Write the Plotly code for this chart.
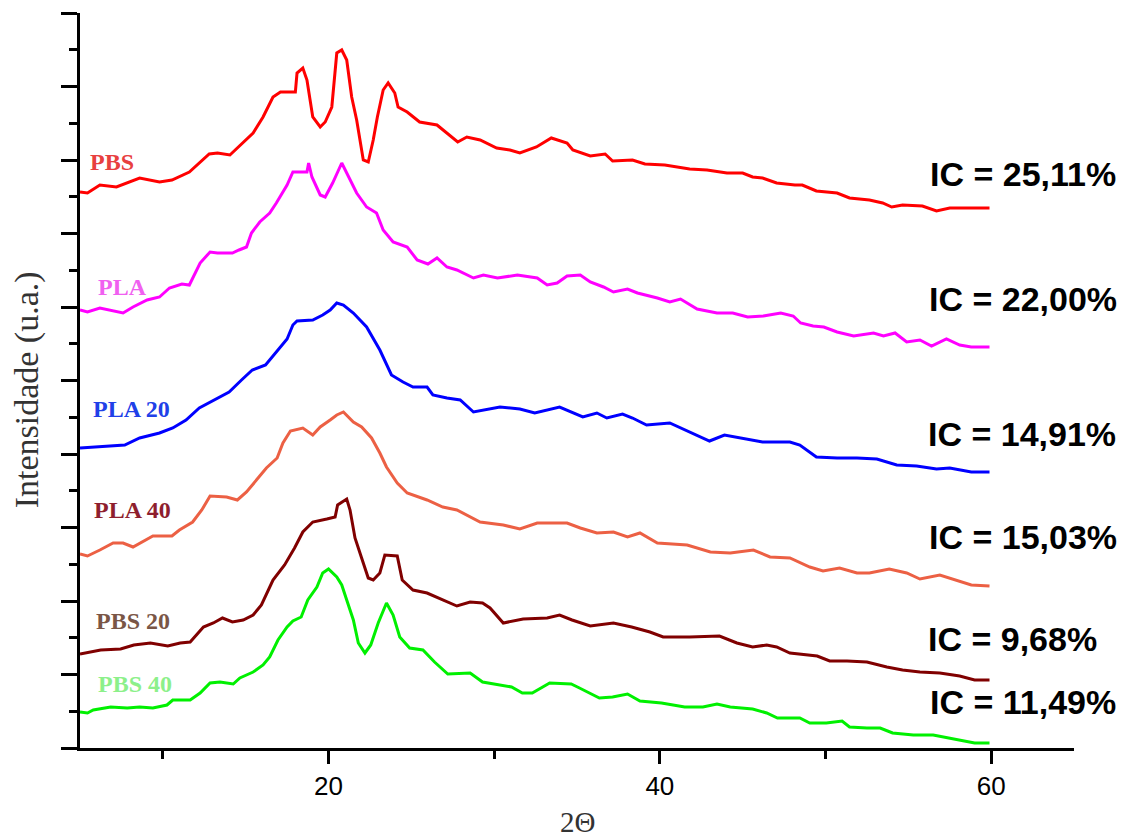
import plotly.graph_objects as go

# ---- data: 2-theta (degrees) and intensity (arbitrary units) ----
pbs_x = [5.0, 5.45, 6.2, 7.2, 8.6, 9.8, 10.55, 11.6, 12.8, 13.3, 14.05, 14.85, 15.45, 16.05, 16.65, 17.1, 18.0, 18.1, 18.45, 18.7, 19.05, 19.5, 19.8, 20.2, 20.4, 20.5, 20.8, 21.1, 21.4, 21.7, 22.1, 22.4, 22.7, 22.95, 23.3, 23.6, 24.0, 24.2, 24.75, 25.5, 26.55, 27.15, 27.8, 28.35, 29.15, 30.15, 30.95, 31.55, 32.55, 33.45, 34.4, 34.75, 35.8, 36.7, 37.15, 38.35, 39.1, 40.3, 41.8, 42.85, 44.05, 45.0, 45.6, 46.2, 47.05, 48.15, 48.6, 49.45, 50.7, 51.45, 52.65, 53.45, 54.0, 54.65, 55.85, 56.7, 57.5, 58.8, 59.9]
pbs_y = [556, 555, 563, 561, 570, 566, 568, 576, 594, 595, 593, 606, 615, 631, 651, 656, 656, 675, 680, 668, 631, 621, 626, 641, 675, 695, 698, 688, 651, 628, 588, 586, 608, 631, 658, 665, 655, 641, 636, 626, 623, 615, 606, 611, 608, 600, 598, 595, 601, 610, 605, 598, 592, 594, 587, 588, 584, 583, 579, 578, 575, 575, 571, 570, 565, 563, 563, 557, 555, 550, 548, 545, 541, 543, 542, 537, 540, 540, 540]

pla_x = [5.0, 5.45, 6.2, 7.0, 7.6, 8.2, 9.05, 9.8, 10.4, 11.15, 11.6, 12.25, 12.85, 13.3, 14.2, 14.6, 15.05, 15.35, 15.85, 16.45, 16.85, 17.5, 17.85, 18.7, 18.8, 19.0, 19.5, 19.8, 20.25, 20.8, 21.1, 21.7, 22.3, 22.9, 23.3, 23.9, 24.75, 25.35, 26.0, 26.55, 27.15, 27.75, 28.75, 29.35, 30.2, 31.4, 32.6, 33.2, 33.8, 34.4, 35.2, 35.8, 36.6, 37.2, 38.05, 38.65, 39.85, 40.6, 41.25, 42.25, 43.45, 44.4, 45.3, 46.25, 47.3, 48.05, 48.5, 49.25, 49.9, 50.7, 51.7, 52.9, 53.5, 54.2, 54.9, 55.7, 56.4, 57.3, 58.1, 58.8, 59.9]
pla_y = [438, 436, 440, 437, 435, 441, 448, 451, 460, 464, 463, 485, 496, 495, 495, 498, 501, 515, 526, 535, 545, 563, 576, 576, 585, 571, 553, 551, 565, 585, 575, 555, 541, 535, 518, 506, 501, 488, 484, 490, 481, 478, 470, 473, 470, 473, 470, 463, 465, 472, 473, 466, 461, 456, 459, 455, 450, 446, 449, 439, 435, 435, 431, 432, 435, 432, 425, 422, 421, 416, 412, 415, 412, 415, 406, 408, 402, 409, 403, 401, 401]

pla20_x = [5.0, 6.2, 7.7, 8.6, 9.8, 10.6, 11.4, 12.2, 12.95, 14.0, 14.75, 15.4, 16.2, 16.9, 17.5, 17.85, 18.1, 19.05, 19.65, 20.1, 20.5, 20.9, 21.5, 22.3, 23.1, 23.8, 24.5, 25.1, 25.95, 26.3, 27.15, 27.95, 28.75, 30.35, 31.55, 32.45, 33.95, 35.35, 36.2, 36.8, 37.75, 38.35, 39.2, 40.6, 41.4, 42.4, 43.0, 43.9, 45.25, 46.2, 47.85, 48.45, 49.45, 50.7, 51.9, 53.1, 54.3, 55.5, 56.7, 57.5, 58.8, 59.9]
pla20_y = [300, 301, 303, 310, 315, 320, 328, 340, 347, 356, 368, 378, 383, 397, 409, 423, 427, 428, 433, 438, 445, 443, 435, 421, 398, 373, 366, 361, 361, 353, 350, 348, 336, 341, 339, 335, 341, 331, 335, 330, 334, 330, 323, 325, 319, 311, 307, 313, 309, 306, 306, 303, 291, 290, 290, 289, 283, 282, 279, 280, 276, 276]

pla40_x = [5.0, 5.45, 6.2, 7.0, 7.6, 8.2, 9.4, 10.55, 11.0, 11.8, 12.35, 12.85, 13.85, 14.5, 15.05, 15.65, 16.25, 16.9, 17.25, 17.7, 18.45, 19.05, 19.5, 20.1, 20.5, 20.9, 21.5, 22.0, 22.6, 23.1, 23.5, 24.15, 24.75, 25.95, 26.9, 27.75, 28.55, 29.15, 30.55, 31.55, 32.6, 34.4, 35.2, 36.2, 37.2, 38.05, 38.8, 39.85, 41.65, 43.05, 44.25, 45.65, 46.65, 47.85, 49.05, 49.85, 50.85, 51.9, 52.65, 53.85, 54.9, 55.7, 56.9, 57.65, 58.8, 59.9]
pla40_y = [194, 192, 198, 205, 205, 201, 212, 212, 218, 226, 238, 252, 251, 248, 256, 268, 280, 290, 305, 317, 320, 313, 321, 328, 333, 336, 326, 321, 310, 295, 281, 265, 255, 248, 241, 238, 231, 226, 223, 219, 225, 225, 220, 215, 216, 211, 215, 205, 203, 196, 195, 198, 191, 190, 181, 177, 180, 175, 175, 179, 175, 169, 173, 169, 163, 162]

pbs20_x = [5.0, 5.65, 6.25, 7.45, 8.25, 9.25, 10.3, 11.05, 11.65, 12.45, 13.05, 13.6, 14.2, 14.85, 15.45, 15.95, 16.65, 17.35, 17.95, 18.45, 19.05, 19.9, 20.4, 20.55, 21.1, 21.3, 21.6, 22.0, 22.4, 22.7, 23.1, 23.4, 24.15, 24.45, 25.1, 25.95, 26.9, 27.75, 28.55, 29.3, 29.75, 30.55, 31.75, 33.2, 33.95, 34.7, 35.8, 37.2, 38.3, 39.4, 40.2, 41.8, 43.6, 44.65, 45.6, 46.45, 47.05, 47.85, 49.5, 50.25, 51.3, 52.5, 53.7, 54.65, 55.7, 56.9, 58.1, 59.0, 59.9]
pbs20_y = [94, 96, 98, 99, 103, 105, 102, 105, 106, 121, 125, 130, 126, 128, 133, 143, 168, 183, 200, 216, 226, 229, 231, 243, 249, 238, 210, 190, 170, 168, 175, 193, 192, 168, 158, 155, 148, 142, 146, 145, 140, 125, 129, 130, 133, 128, 122, 125, 121, 116, 111, 111, 112, 105, 101, 103, 101, 95, 92, 87, 87, 86, 81, 78, 76, 75, 72, 68, 68]

pbs40_x = [5.0, 5.45, 5.8, 6.85, 7.85, 8.6, 9.4, 10.25, 10.6, 11.65, 12.25, 12.85, 13.45, 14.25, 14.65, 15.45, 16.05, 16.45, 16.95, 17.5, 17.85, 18.35, 18.75, 19.3, 19.65, 20.0, 20.5, 20.8, 21.1, 21.5, 21.8, 22.2, 22.55, 23.0, 23.5, 23.9, 24.3, 24.9, 25.7, 26.4, 27.2, 28.55, 29.3, 30.35, 31.05, 31.7, 32.3, 33.35, 34.65, 35.15, 36.35, 37.15, 38.05, 38.8, 40.1, 41.5, 42.6, 43.45, 44.25, 45.6, 46.45, 47.1, 48.45, 49.05, 50.05, 51.0, 51.45, 52.5, 53.3, 54.05, 55.3, 56.5, 57.5, 58.25, 59.0, 59.9]
pbs40_y = [36, 35, 38, 41, 40, 41, 40, 43, 48, 48, 55, 65, 66, 64, 70, 76, 83, 91, 108, 121, 127, 131, 148, 161, 175, 179, 171, 163, 148, 128, 105, 95, 103, 125, 145, 133, 111, 100, 98, 86, 74, 75, 66, 63, 61, 55, 55, 65, 64, 60, 50, 51, 54, 47, 45, 41, 41, 44, 41, 39, 35, 30, 30, 25, 25, 27, 21, 20, 20, 15, 13, 13, 10, 8, 5, 5]

series_names = ["PBS", "PLA", "PLA 20", "PLA 40", "PBS 20", "PBS 40"]
ic_labels = ["IC = 25,11%", "IC = 22,00%", "IC = 14,91%", "IC = 15,03%", "IC = 9,68%", "IC = 11,49%"]
x_ticks = [20, 40, 60]

series_x = [pbs_x, pla_x, pla20_x, pla40_x, pbs20_x, pbs40_x]
series_y = [pbs_y, pla_y, pla20_y, pla40_y, pbs20_y, pbs40_y]

# ---- styles ----
line_colors = ["#FF0000", "#FF00FF", "#0000FF", "#EC6044", "#800000", "#00F000"]
label_colors = ["#E8403F", "#F060F0", "#2040E8", "#8E1E2E", "#7A5646", "#8CF08A"]
label_pos = [(5.5, 586), (5.95, 461), (5.65, 339), (5.7, 238), (5.85, 127), (5.95, 64)]
ic_pos = [(56.2, 574), (56.15, 449), (56.05, 314), (56.15, 211), (56.05, 109), (56.2, 46)]

SERIF = "Liberation Serif, Times New Roman, serif"
SANS = "Liberation Sans, Arial, sans-serif"

fig = go.Figure()
for xs, ys, name, col in zip(series_x, series_y, series_names, line_colors):
    fig.add_trace(go.Scatter(x=xs, y=ys, mode="lines", name=name,
                             line=dict(color=col, width=3)))

annotations = []
for name, col, (lx, ly) in zip(series_names, label_colors, label_pos):
    annotations.append(dict(x=lx, y=ly, xref="x", yref="y", text="<b>" + name + "</b>",
                            showarrow=False, xanchor="left", yanchor="middle",
                            font=dict(family=SERIF, size=24, color=col)))
for txt, (lx, ly) in zip(ic_labels, ic_pos):
    annotations.append(dict(x=lx, y=ly, xref="x", yref="y", text="<b>" + txt + "</b>",
                            showarrow=False, xanchor="left", yanchor="middle",
                            font=dict(family=SANS, size=34, color="black")))
annotations.append(dict(x=0.5, y=-0.1, xref="paper", yref="paper", text="2Θ",
                        showarrow=False, xanchor="center", yanchor="middle",
                        font=dict(family=SERIF, size=29, color="#333333")))
annotations.append(dict(x=-0.053, y=0.487, xref="paper", yref="paper",
                        text="Intensidade (u.a.)", textangle=-90,
                        showarrow=False, xanchor="center", yanchor="middle",
                        font=dict(family=SERIF, size=34, color="#333333")))

# page body has an 8px default margin: figure is sized/offset to fill the window
fig.update_layout(
    width=1120, height=831,
    margin=dict(l=72, r=54, t=5, b=91),
    paper_bgcolor="white", plot_bgcolor="white",
    showlegend=False,
    annotations=annotations,
    xaxis=dict(range=[5, 65], showline=True, linecolor="black", linewidth=3,
               ticks="outside", ticklen=13, tickwidth=3, tickcolor="black",
               tickmode="array", tickvals=x_ticks, ticktext=[str(v) for v in x_ticks],
               minor=dict(ticks="outside", ticklen=8, tickwidth=3, tickcolor="black",
                          tick0=0, dtick=10),
               showgrid=False, zeroline=False,
               tickfont=dict(family=SANS, size=26, color="black")),
    yaxis=dict(range=[0, 735], showline=True, linecolor="black", linewidth=2.5,
               ticks="outside", ticklen=16, tickwidth=2.5, tickcolor="black",
               tick0=0, dtick=73.5,
               minor=dict(ticks="outside", ticklen=8, tickwidth=2.5, tickcolor="black",
                          dtick=36.75),
               showticklabels=False, showgrid=False, zeroline=False),
)

fig.write_html("out.html")
